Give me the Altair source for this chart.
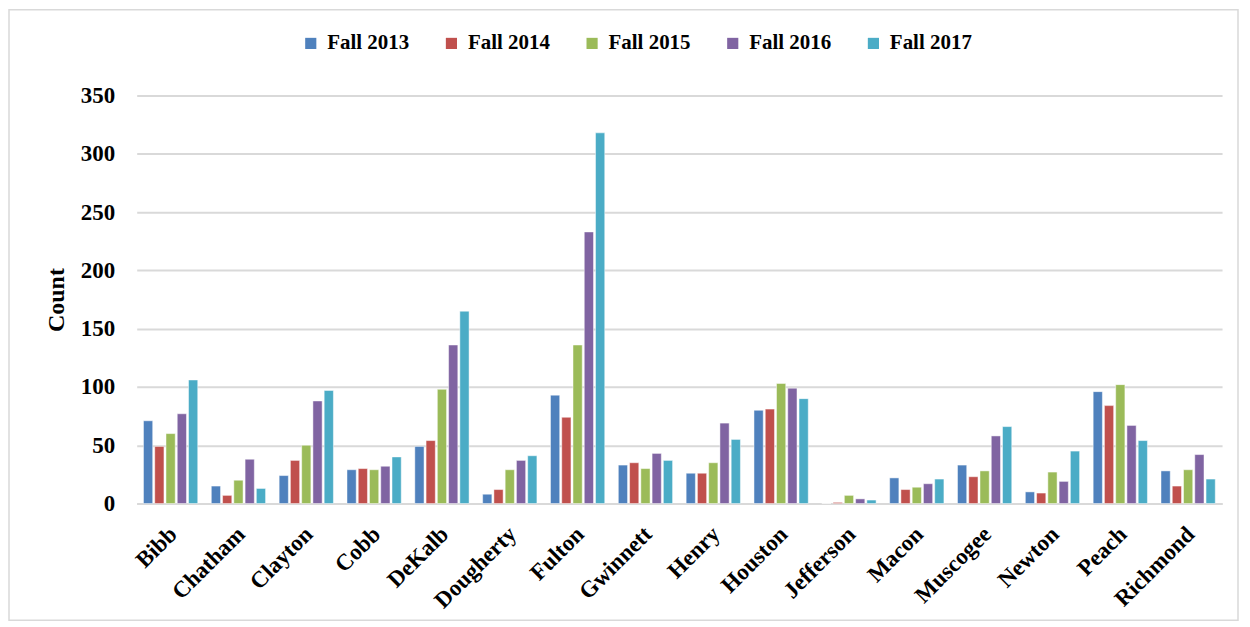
import altair as alt
import pandas as pd

counties = ["Bibb", "Chatham", "Clayton", "Cobb", "DeKalb", "Dougherty", "Fulton",
            "Gwinnett", "Henry", "Houston", "Jefferson", "Macon", "Muscogee",
            "Newton", "Peach", "Richmond"]
series = ["Fall 2013", "Fall 2014", "Fall 2015", "Fall 2016", "Fall 2017"]
fall2013 = [71, 15, 24, 29, 49, 8, 93, 33, 26, 80, 0, 22, 33, 10, 96, 28]
fall2014 = [49, 7, 37, 30, 54, 12, 74, 35, 26, 81, 1, 12, 23, 9, 84, 15]
fall2015 = [60, 20, 50, 29, 98, 29, 136, 30, 35, 103, 7, 14, 28, 27, 102, 29]
fall2016 = [77, 38, 88, 32, 136, 37, 233, 43, 69, 99, 4, 17, 58, 19, 67, 42]
fall2017 = [106, 13, 97, 40, 165, 41, 318, 37, 55, 90, 3, 21, 66, 45, 54, 21]
colors = ["#4F81BD", "#C0504D", "#9BBB59", "#8064A2", "#4BACC6"]

rows = []
for s, vals in zip(series, [fall2013, fall2014, fall2015, fall2016, fall2017]):
    for c, v in zip(counties, vals):
        rows.append({"County": c, "Term": s, "Count": v})
df = pd.DataFrame(rows)

FONT = "Liberation Serif"

bars = alt.Chart(df).mark_bar(stroke="white", strokeWidth=0.8, strokeOpacity=0.6).encode(
    x=alt.X("County:N", sort=counties, title=None,
            scale=alt.Scale(paddingInner=0.2, paddingOuter=0.1),
            axis=alt.Axis(labelAngle=-45, labelFont=FONT, labelFontSize=23,
                          labelFontWeight="bold", labelColor="black", ticks=False,
                          domainColor="#d9d9d9", domainWidth=2, labelPadding=19,
                          labelOffset=-5)),
    xOffset=alt.XOffset("Term:N", sort=series, scale=alt.Scale(paddingInner=0.18)),
    y=alt.Y("Count:Q", title="Count", scale=alt.Scale(domain=[0, 350]),
            axis=alt.Axis(values=[0, 50, 100, 150, 200, 250, 300, 350], labelFont=FONT,
                          labelFontSize=23, labelFontWeight="bold", labelColor="black",
                          titleFont=FONT, titleFontSize=24, titleFontWeight="bold",
                          titleColor="black", titlePadding=12, ticks=False, domain=False,
                          gridColor="#d9d9d9", gridWidth=2, labelPadding=22)),
    color=alt.Color("Term:N", sort=series, title=None,
                    scale=alt.Scale(domain=series, range=colors),
                    legend=alt.Legend(orient="none", direction="horizontal",
                                      legendX=164, legendY=-63, symbolType="square",
                                      symbolSize=125, symbolStrokeWidth=0,
                                      labelFont=FONT, labelFontSize=21,
                                      labelFontWeight="bold", labelColor="black",
                                      columnPadding=31, labelOffset=6)),
)

border = alt.Chart(pd.DataFrame({"a": [0]})).mark_rect(
    fill=None, stroke="#d9d9d9", strokeWidth=1.5).encode(
    x=alt.value(-128), x2=alt.value(1104), y=alt.value(-86), y2=alt.value(526))

chart = alt.layer(border, bars).properties(
    width=1088, height=409,
    padding={"left": 129, "top": 87, "right": 20, "bottom": 118},
    autosize=alt.AutoSizeParams(type="none"),
).configure_view(stroke=None)

chart.save("out.html", embed_options={"renderer": "svg", "actions": False})
